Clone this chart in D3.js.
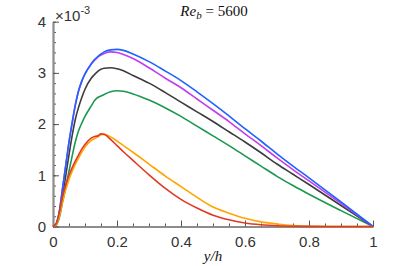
<!DOCTYPE html>
<html>
<head>
<meta charset="utf-8">
<script src="https://cdn.jsdelivr.net/npm/d3@7"></script>
<style>
  body { margin: 0; background: #fff; }
</style>
</head>
<body>
<script>
// wall-normal positions y/h shared by all profiles
const yh = [0, 0.01, 0.02, 0.03, 0.04, 0.05, 0.06, 0.07, 0.08, 0.09, 0.1, 0.12, 0.13, 0.14, 0.15, 0.16, 0.18, 0.2, 0.22, 0.25, 0.3, 0.35, 0.4, 0.45, 0.5, 0.55, 0.6, 0.65, 0.7, 0.75, 0.8, 0.9, 1.0];

// profiles in units of 1e-3
const blueVals    = [0, 0.05, 0.3, 0.75, 1.2, 1.65, 2.03, 2.38, 2.65, 2.84, 2.98, 3.18, 3.26, 3.32, 3.37, 3.41, 3.45, 3.46, 3.44, 3.37, 3.22, 3.04, 2.85, 2.63, 2.40, 2.16, 1.91, 1.67, 1.42, 1.18, 0.95, 0.48, 0];
const magentaVals = [0, 0.05, 0.3, 0.75, 1.2, 1.65, 2.03, 2.38, 2.65, 2.84, 2.98, 3.18, 3.25, 3.31, 3.35, 3.38, 3.41, 3.40, 3.36, 3.28, 3.10, 2.90, 2.71, 2.49, 2.27, 2.05, 1.81, 1.58, 1.34, 1.11, 0.89, 0.45, 0];
const blackVals   = [0, 0.04, 0.25, 0.6, 1.0, 1.4, 1.78, 2.1, 2.33, 2.52, 2.68, 2.9, 2.97, 3.03, 3.07, 3.09, 3.10, 3.08, 3.04, 2.95, 2.80, 2.62, 2.43, 2.24, 2.05, 1.85, 1.65, 1.44, 1.22, 1.02, 0.82, 0.41, 0];
const greenVals   = [0, 0.03, 0.18, 0.48, 0.78, 1.08, 1.38, 1.66, 1.87, 2.02, 2.15, 2.36, 2.46, 2.52, 2.55, 2.58, 2.63, 2.65, 2.64, 2.59, 2.47, 2.32, 2.15, 1.96, 1.77, 1.58, 1.38, 1.18, 0.98, 0.80, 0.63, 0.31, 0];
const orangeVals  = [0, 0.04, 0.2, 0.48, 0.72, 0.92, 1.08, 1.22, 1.34, 1.45, 1.55, 1.68, 1.72, 1.75, 1.79, 1.80, 1.75, 1.67, 1.58, 1.45, 1.22, 0.99, 0.78, 0.57, 0.38, 0.26, 0.16, 0.09, 0.05, 0.02, 0.005, 0, 0];
const redVals     = [0, 0.06, 0.28, 0.6, 0.82, 1.0, 1.15, 1.28, 1.4, 1.51, 1.6, 1.73, 1.76, 1.77, 1.81, 1.80, 1.70, 1.58, 1.46, 1.29, 1.01, 0.75, 0.53, 0.36, 0.22, 0.13, 0.07, 0.035, 0.015, 0.006, 0.002, 0, 0];

const xTicks = [0, 0.2, 0.4, 0.6, 0.8, 1];
const yTicks = [0, 1, 2, 3, 4];

const series = [
  { vals: greenVals, color: '#1a9850' },
  { vals: blackVals, color: '#3c3c3c' },
  { vals: magentaVals, color: '#c33cf0' },
  { vals: blueVals, color: '#1f62ff' },
  { vals: orangeVals, color: '#ffa500' },
  { vals: redVals, color: '#e03a22' }
];

const sansFont = '"Liberation Sans", Arial, Helvetica, sans-serif';
const serifFont = '"Liberation Serif", "Times New Roman", serif';

const svg = d3.select('body').append('svg')
  .attr('width', 411)
  .attr('height', 266);

const margin = { top: 21.7, left: 53 };
const width = 320;
const height = 204.8;

const x = d3.scaleLinear().domain([0, 1]).range([0, width]);
const y = d3.scaleLinear().domain([0, 4]).range([height, 0]);

const g = svg.append('g')
  .attr('transform', 'translate(' + margin.left + ',' + margin.top + ')');

// minor ticks
g.append('g')
  .attr('transform', 'translate(0,' + height + ')')
  .call(d3.axisBottom(x).tickValues(d3.range(0, 1.001, 0.05)).tickSize(-3).tickFormat(''))
  .call(a => a.select('.domain').remove())
  .call(a => a.selectAll('line').attr('stroke', '#555'));
g.append('g')
  .call(d3.axisLeft(y).tickValues(d3.range(0, 4.001, 0.2)).tickSize(-3).tickFormat(''))
  .call(a => a.select('.domain').remove())
  .call(a => a.selectAll('line').attr('stroke', '#555'));

// major ticks + labels
const xAxis = g.append('g')
  .attr('transform', 'translate(0,' + height + ')')
  .call(d3.axisBottom(x).tickValues(xTicks).tickSizeInner(-6).tickSizeOuter(0).tickPadding(10).tickFormat(d3.format('~g')));
const yAxis = g.append('g')
  .call(d3.axisLeft(y).tickValues(yTicks).tickSizeInner(-6).tickSizeOuter(0).tickPadding(7).tickFormat(d3.format('~g')));

[xAxis, yAxis].forEach(function (a) {
  a.select('.domain').attr('stroke', '#8c8c8c').attr('stroke-width', 2.2);
  a.selectAll('line').attr('stroke', '#555');
  a.selectAll('text')
    .attr('font-family', sansFont)
    .attr('font-size', 15)
    .attr('fill', '#333');
});

// curves
const line = d3.line()
  .x(function (d, i) { return x(yh[i]); })
  .y(function (d) { return y(d); })
  .curve(d3.curveMonotoneX);

g.selectAll('path.profile')
  .data(series)
  .enter()
  .append('path')
  .attr('class', 'profile')
  .attr('d', function (d) { return line(d.vals); })
  .attr('fill', 'none')
  .attr('stroke', function (d) { return d.color; })
  .attr('stroke-width', 1.6);

// exponent label
const expo = svg.append('text')
  .attr('x', 55)
  .attr('y', 21)
  .attr('font-family', sansFont)
  .attr('font-size', 15)
  .attr('fill', '#333');
expo.append('tspan').text('\u00d710');
expo.append('tspan').attr('dy', -7).attr('font-size', 11).text('-3');

// title
const title = svg.append('text')
  .attr('x', 214)
  .attr('y', 16)
  .attr('text-anchor', 'middle')
  .attr('font-family', serifFont)
  .attr('font-size', 15)
  .attr('fill', '#111');
title.append('tspan').attr('font-style', 'italic').text('Re');
title.append('tspan').attr('font-style', 'italic').attr('font-size', 11).attr('dy', 3).text('b');
title.append('tspan').attr('dy', -3).text(' = 5600');

// x label
svg.append('text')
  .attr('x', 213)
  .attr('y', 261)
  .attr('text-anchor', 'middle')
  .attr('font-family', serifFont)
  .attr('font-style', 'italic')
  .attr('font-size', 15)
  .attr('fill', '#111')
  .text('y/h');
</script>
</body>
</html>
